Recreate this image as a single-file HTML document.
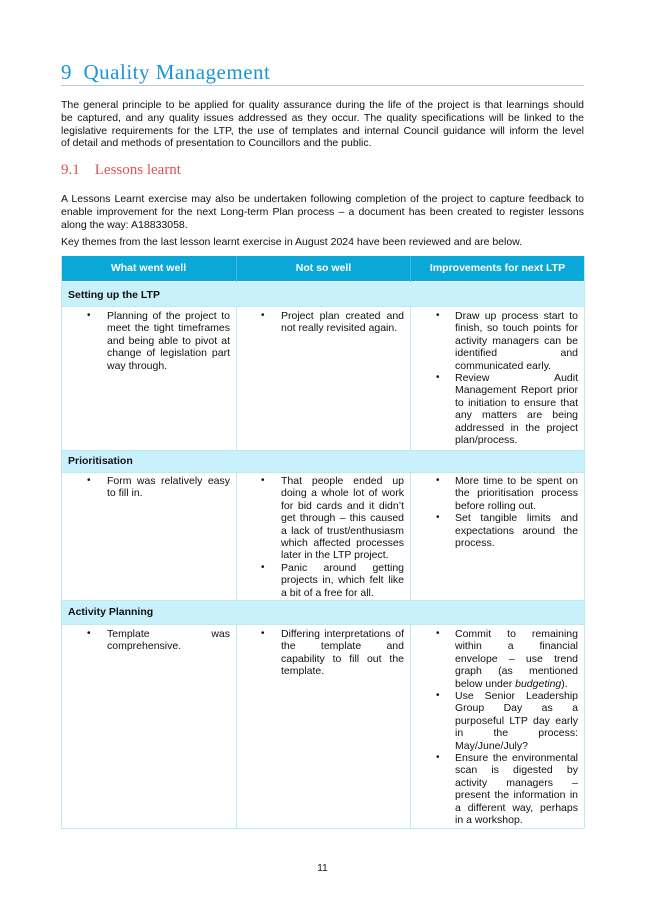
<!DOCTYPE html><html><head><meta charset="utf-8"><style>
body{margin:0;background:#fff;}
#p{position:relative;width:645px;height:912px;font-family:"Liberation Sans",Arial,sans-serif;font-size:10.5px;color:#111;}
.a{position:absolute;white-space:nowrap;}
.t{position:absolute;line-height:12.4px;}
.bd{line-height:12.8px;}
.t div{white-space:nowrap;}
.j{text-align:justify;text-align-last:justify;}
.b{position:absolute;font-size:10px;line-height:12.4px;}
.hd{position:absolute;top:256px;height:25px;background:#0aa8d8;color:#fff;font-weight:bold;line-height:25px;text-align:center;}
.sec{position:absolute;left:61px;width:523px;background:#c9f1fb;font-weight:bold;padding-left:7px;box-sizing:border-box;}
.vl{position:absolute;width:1px;background:#bde9f5;}
.hl{position:absolute;left:61px;width:523px;height:1px;background:#bde9f5;}
</style></head><body><div id="p">
<div class="a" style="left:61px;top:60px;font-family:'Liberation Serif',serif;font-size:21px;color:#1a96d4;letter-spacing:0.5px">9&nbsp;&nbsp;Quality Management</div>
<div class="a" style="left:61px;top:85px;width:523px;height:1px;background:#b8c8d8"></div>
<div class="t bd" style="left:61px;top:99px;width:523px">
<div class="j">The general principle to be applied for quality assurance during the life of the project is that learnings should</div>
<div class="j">be captured, and any quality issues addressed as they occur. The quality specifications will be linked to the</div>
<div class="j">legislative requirements for the LTP, the use of templates and internal Council guidance will inform the level</div>
<div>of detail and methods of presentation to Councillors and the public.</div></div>
<div class="a" style="left:61px;top:162px;font-family:'Liberation Serif',serif;font-size:15px;color:#e0505a">9.1&nbsp;&nbsp;&nbsp;&nbsp;Lessons learnt</div>
<div class="t bd" style="left:61px;top:193px;width:523px">
<div class="j">A Lessons Learnt exercise may also be undertaken following completion of the project to capture feedback to</div>
<div class="j">enable improvement for the next Long-term Plan process – a document has been created to register lessons</div>
<div>along the way: A18833058.</div></div>
<div class="t bd" style="left:61px;top:236px"><div>Key themes from the last lesson learnt exercise in August 2024 have been reviewed and are below.</div></div>

<div class="hd" style="left:61px;width:175px">What went well</div>
<div class="hd" style="left:237px;width:173px">Not so well</div>
<div class="hd" style="left:411px;width:173px">Improvements for next LTP</div>
<div class="sec" style="top:282px;height:24px;line-height:26px">Setting up the LTP</div>
<div class="sec" style="top:450px;height:22px;line-height:22px">Prioritisation</div>
<div class="sec" style="top:600px;height:24px;line-height:24px">Activity Planning</div>
<div class="vl" style="left:61px;top:256px;height:572px"></div>
<div class="vl" style="left:236px;top:256px;height:26px;background:#3bbbe2"></div>
<div class="vl" style="left:410px;top:256px;height:26px;background:#3bbbe2"></div>
<div class="vl" style="left:236px;top:306px;height:144px"></div>
<div class="vl" style="left:410px;top:306px;height:144px"></div>
<div class="vl" style="left:236px;top:472px;height:128px"></div>
<div class="vl" style="left:410px;top:472px;height:128px"></div>
<div class="vl" style="left:236px;top:624px;height:204px"></div>
<div class="vl" style="left:410px;top:624px;height:204px"></div>
<div class="vl" style="left:584px;top:256px;height:572px"></div>
<div class="hl" style="top:306px"></div><div class="hl" style="top:450px"></div><div class="hl" style="top:472px"></div><div class="hl" style="top:600px"></div><div class="hl" style="top:624px"></div><div class="hl" style="top:828px"></div>

<!-- row1 -->
<div class="b" style="left:87px;top:310px">•</div>
<div class="t" style="left:107px;top:310px;width:123px">
<div class="j">Planning of the project to</div><div class="j">meet the tight timeframes</div><div class="j">and being able to pivot at</div><div class="j">change of legislation part</div><div>way through.</div></div>
<div class="b" style="left:261px;top:310px">•</div>
<div class="t" style="left:281px;top:310px;width:123px">
<div class="j">Project plan created and</div><div>not really revisited again.</div></div>
<div class="b" style="left:436px;top:310px">•</div>
<div class="b" style="left:436px;top:372px">•</div>
<div class="t" style="left:455px;top:310px;width:123px">
<div class="j">Draw up process start to</div><div class="j">finish, so touch points for</div><div class="j">activity managers can be</div><div class="j">identified and</div><div>communicated early.</div>
<div class="j">Review Audit</div><div class="j">Management Report prior</div><div class="j">to initiation to ensure that</div><div class="j">any matters are being</div><div class="j">addressed in the project</div><div>plan/process.</div></div>

<!-- row2 -->
<div class="b" style="left:87px;top:475px">•</div>
<div class="t" style="left:107px;top:475px;width:123px">
<div class="j">Form was relatively easy</div><div>to fill in.</div></div>
<div class="b" style="left:261px;top:475px">•</div>
<div class="b" style="left:261px;top:561.8px">•</div>
<div class="t" style="left:281px;top:475px;width:123px">
<div class="j">That people ended up</div><div class="j">doing a whole lot of work</div><div class="j">for bid cards and it didn’t</div><div class="j">get through – this caused</div><div class="j">a lack of trust/enthusiasm</div><div class="j">which affected processes</div><div>later in the LTP project.</div>
<div class="j">Panic around getting</div><div class="j">projects in, which felt like</div><div>a bit of a free for all.</div></div>
<div class="b" style="left:436px;top:475px">•</div>
<div class="b" style="left:436px;top:512.2px">•</div>
<div class="t" style="left:455px;top:475px;width:123px">
<div class="j">More time to be spent on</div><div class="j">the prioritisation process</div><div>before rolling out.</div>
<div class="j">Set tangible limits and</div><div class="j">expectations around the</div><div>process.</div></div>

<!-- row3 -->
<div class="b" style="left:87px;top:628px">•</div>
<div class="t" style="left:107px;top:628px;width:123px">
<div class="j">Template was</div><div>comprehensive.</div></div>
<div class="b" style="left:261px;top:628px">•</div>
<div class="t" style="left:281px;top:628px;width:123px">
<div class="j">Differing interpretations of</div><div class="j">the template and</div><div class="j">capability to fill out the</div><div>template.</div></div>
<div class="b" style="left:436px;top:628px">•</div>
<div class="b" style="left:436px;top:690px">•</div>
<div class="b" style="left:436px;top:752px">•</div>
<div class="t" style="left:455px;top:628px;width:123px">
<div class="j">Commit to remaining</div><div class="j">within a financial</div><div class="j">envelope – use trend</div><div class="j">graph (as mentioned</div><div>below under <i>budgeting</i>).</div>
<div class="j">Use Senior Leadership</div><div class="j">Group Day as a</div><div class="j">purposeful LTP day early</div><div class="j">in the process:</div><div>May/June/July?</div>
<div class="j">Ensure the environmental</div><div class="j">scan is digested by</div><div class="j">activity managers –</div><div class="j">present the information in</div><div class="j">a different way, perhaps</div><div>in a workshop.</div></div>

<div class="a" style="left:0;width:645px;top:863px;text-align:center;font-size:10px">11</div>
</div></body></html>
